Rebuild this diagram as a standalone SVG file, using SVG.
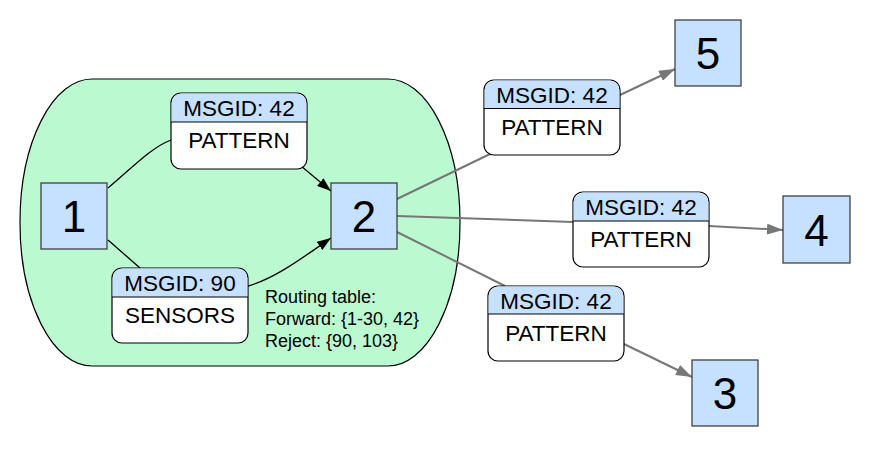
<svg xmlns="http://www.w3.org/2000/svg" width="871" height="450" viewBox="0 0 871 450">
<style>
.num{fill:#c6e0ff;stroke:#333;stroke-width:1.2}
.numt{font-family:"Liberation Sans",Arial,sans-serif;font-size:44px;text-anchor:middle;fill:#000}
.box{fill:#fff;stroke:#000;stroke-width:1.2}
.hdr{fill:#c6e0ff}
.sep{stroke:#000;stroke-width:1.2}
.bt{font-family:"Liberation Sans",Arial,sans-serif;font-size:22.5px;text-anchor:middle;fill:#000}
.rt{font-family:"Liberation Sans",Arial,sans-serif;font-size:18px;fill:#000}
.blk{fill:none;stroke:#000;stroke-width:1.3}
.gry{fill:none;stroke:#777;stroke-width:2}
</style>
<defs>
<marker id="ab" viewBox="0 0 14 10" refX="14" refY="5" markerWidth="14" markerHeight="10" markerUnits="userSpaceOnUse" orient="auto"><path d="M0,0 L14,5 L0,10 Z" fill="#000"/></marker>
<marker id="ag" viewBox="0 0 16 11" refX="16" refY="5.5" markerWidth="16" markerHeight="11" markerUnits="userSpaceOnUse" orient="auto"><path d="M0,0 L16,5.5 L0,11 Z" fill="#777"/></marker>
</defs>
<g id="container">
<rect x="20" y="79" width="440" height="287" rx="72" ry="143" fill="#bbf9d1" stroke="#000" stroke-width="1.2"/>
<text class="rt" x="265" y="303">Routing table:</text>
<text class="rt" x="265" y="325">Forward: {1-30, 42}</text>
<text class="rt" x="265" y="347">Reject: {90, 103}</text>
</g>
<g id="connectors">
<path class="blk" d="M108,188 C130,170 150,148 171,140"/>
<path class="blk" d="M301,166 L331,191" marker-end="url(#ab)"/>
<path class="blk" d="M108,240 L140,268"/>
<path class="blk" d="M248,286 C276,278 302,258 331,238" marker-end="url(#ab)"/>
<path class="gry" d="M397,199 L490,154"/>
<path class="gry" d="M620,95 L675,69" marker-end="url(#ag)"/>
<path class="gry" d="M397,216 L573,222"/>
<path class="gry" d="M709,226 L783,230" marker-end="url(#ag)"/>
<path class="gry" d="M397,232 L505,286"/>
<path class="gry" d="M624,344 L692,377" marker-end="url(#ag)"/>
</g>
<g id="n1"><rect class="num" x="41" y="183" width="66" height="66"/><text class="numt" x="74" y="232">1</text></g>
<g id="n2"><rect class="num" x="331" y="183" width="66" height="66"/><text class="numt" x="364" y="232">2</text></g>
<g id="n5"><rect class="num" x="675" y="20" width="66" height="66"/><text class="numt" x="708" y="69">5</text></g>
<g id="n4"><rect class="num" x="783" y="196" width="67" height="67"/><text class="numt" x="816.5" y="246">4</text></g>
<g id="n3"><rect class="num" x="692" y="360" width="66" height="66"/><text class="numt" x="725" y="409">3</text></g>
<g id="f1" transform="translate(171,93)">
<rect class="box" x="0" y="0" width="136" height="76" rx="10"/>
<path class="hdr" d="M0.6,29 V10 A9.4,9.4 0 0 1 10,0.6 H126 A9.4,9.4 0 0 1 135.4,10 V29 Z"/>
<line class="sep" x1="0" y1="29" x2="136" y2="29"/>
<text class="bt" x="68" y="22.5">MSGID: 42</text><text class="bt" x="68" y="55">PATTERN</text>
</g>
<g id="f2" transform="translate(112,268)">
<rect class="box" x="0" y="0" width="136" height="75" rx="10"/>
<path class="hdr" d="M0.6,29 V10 A9.4,9.4 0 0 1 10,0.6 H126 A9.4,9.4 0 0 1 135.4,10 V29 Z"/>
<line class="sep" x1="0" y1="29" x2="136" y2="29"/>
<text class="bt" x="68" y="22.5">MSGID: 90</text><text class="bt" x="68" y="55">SENSORS</text>
</g>
<g id="f3" transform="translate(484,80)">
<rect class="box" x="0" y="0" width="136" height="75" rx="10"/>
<path class="hdr" d="M0.6,28.5 V10 A9.4,9.4 0 0 1 10,0.6 H126 A9.4,9.4 0 0 1 135.4,10 V28.5 Z"/>
<line class="sep" x1="0" y1="28.5" x2="136" y2="28.5"/>
<text class="bt" x="68" y="22.5">MSGID: 42</text><text class="bt" x="68" y="55">PATTERN</text>
</g>
<g id="f4" transform="translate(573,192)">
<rect class="box" x="0" y="0" width="136" height="75" rx="10"/>
<path class="hdr" d="M0.6,29 V10 A9.4,9.4 0 0 1 10,0.6 H126 A9.4,9.4 0 0 1 135.4,10 V29 Z"/>
<line class="sep" x1="0" y1="29" x2="136" y2="29"/>
<text class="bt" x="68" y="22.5">MSGID: 42</text><text class="bt" x="68" y="55">PATTERN</text>
</g>
<g id="f5" transform="translate(488,286)">
<rect class="box" x="0" y="0" width="136" height="75" rx="10"/>
<path class="hdr" d="M0.6,28 V10 A9.4,9.4 0 0 1 10,0.6 H126 A9.4,9.4 0 0 1 135.4,10 V28 Z"/>
<line class="sep" x1="0" y1="28" x2="136" y2="28"/>
<text class="bt" x="68" y="22.5">MSGID: 42</text><text class="bt" x="68" y="55">PATTERN</text>
</g>
</svg>
